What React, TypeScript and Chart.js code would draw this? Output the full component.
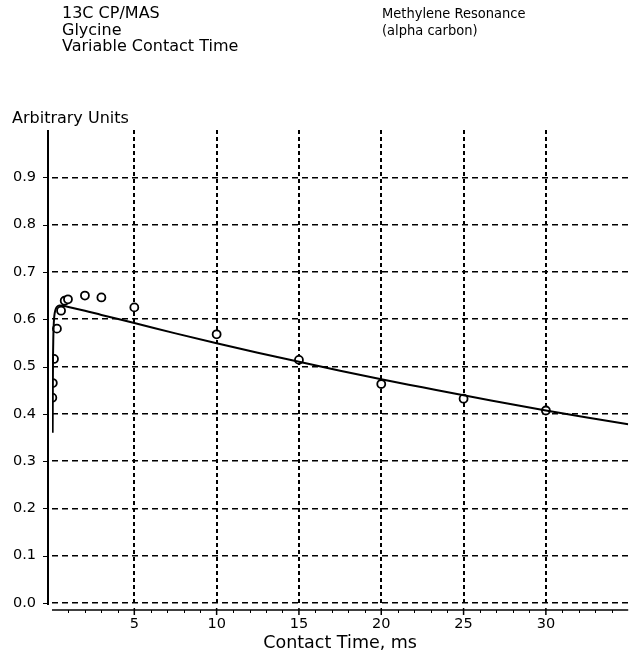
import React, { useEffect, useRef } from "react";
import { Chart, registerables } from "chart.js";

Chart.register(...registerables);

// Measured data points (contact time in ms, intensity in arbitrary units)
const pointTimes = [0.02, 0.05, 0.12, 0.3, 0.55, 0.77, 0.97, 2, 3, 5, 10, 15, 20, 25, 30];
const pointValues = [0.434, 0.465, 0.516, 0.58, 0.618, 0.639, 0.642, 0.65, 0.646, 0.625, 0.568, 0.514, 0.463, 0.432, 0.407];

// Fitted curve
const fitTimes = [0.04, 0.05, 0.06, 0.08, 0.1, 0.13, 0.17, 0.22, 0.3, 0.45, 0.7, 1, 2, 3, 5, 7.5, 10, 12.5, 15, 17.5, 20, 22.5, 25, 27.5, 30, 32.5, 35];
const fitValues = [0.36, 0.45, 0.51, 0.56, 0.585, 0.603, 0.614, 0.621, 0.626, 0.629, 0.628, 0.626, 0.618, 0.609, 0.592, 0.57, 0.549, 0.529, 0.51, 0.491, 0.473, 0.456, 0.439, 0.423, 0.407, 0.392, 0.378];

// Axis ticks
const xTickValues = [5, 10, 15, 20, 25, 30];
const xMinorTickValues = [1, 2, 3, 4, 6, 7, 8, 9, 11, 12, 13, 14, 16, 17, 18, 19, 21, 22, 23, 24, 26, 27, 28, 29, 31, 32, 33, 34];
const yTickValues = [0, 0.1, 0.2, 0.3, 0.4, 0.5, 0.6, 0.7, 0.8, 0.9];

const headerLeft = ["13C CP/MAS", "Glycine", "Variable Contact Time"];
const headerRight = ["Methylene Resonance", "(alpha carbon)"];
const yAxisTitle = "Arbitrary Units";
const xAxisTitle = "Contact Time, ms";

const FONT = "'DejaVu Sans', 'Open Sans', sans-serif";
const FONT_NARROW = "'Liberation Sans Narrow', 'DejaVu Sans Condensed', sans-serif";

const axesPlugin = {
  id: "customAxes",
  beforeDatasetsDraw(chart: any) {
    const { ctx, chartArea, scales } = chart;
    const xs = scales.x;
    const ys = scales.y;
    ctx.save();
    ctx.strokeStyle = "#000";
    ctx.setLineDash([]);
    // vertical axis line
    const ax = chartArea.left - 4;
    ctx.lineWidth = 2;
    ctx.beginPath();
    ctx.moveTo(ax, chartArea.top);
    ctx.lineTo(ax, chartArea.bottom + 2);
    ctx.stroke();
    // y tick marks
    ctx.lineWidth = 1;
    ctx.beginPath();
    yTickValues.forEach((v) => {
      const py = Math.round(ys.getPixelForValue(v)) + 0.5;
      ctx.moveTo(ax - 5, py);
      ctx.lineTo(ax, py);
    });
    ctx.stroke();
    // horizontal axis line
    const ay = chartArea.bottom + 7;
    ctx.lineWidth = 1.5;
    ctx.beginPath();
    ctx.moveTo(chartArea.left, ay);
    ctx.lineTo(chartArea.right, ay);
    ctx.stroke();
    ctx.lineWidth = 1.5;
    ctx.beginPath();
    xTickValues.forEach((v) => {
      const px = xs.getPixelForValue(v);
      ctx.moveTo(px, ay - 2);
      ctx.lineTo(px, ay + 5);
    });
    ctx.stroke();
    ctx.lineWidth = 1;
    ctx.beginPath();
    xMinorTickValues.forEach((v) => {
      const px = Math.round(xs.getPixelForValue(v)) + 0.5;
      ctx.moveTo(px, ay);
      ctx.lineTo(px, ay + 3);
    });
    ctx.stroke();
    ctx.restore();
  },
};

export default function App() {
  const canvasRef = useRef<HTMLCanvasElement | null>(null);

  useEffect(() => {
    const canvas = canvasRef.current;
    if (!canvas) return;
    const chart = new Chart(canvas, {
      type: "scatter",
      data: {
        datasets: [
          {
            label: "fit",
            data: fitTimes.map((t, i) => ({ x: t, y: fitValues[i] })),
            showLine: true,
            borderColor: "#000",
            borderWidth: 2,
            pointRadius: 0,
            fill: false,
            cubicInterpolationMode: "monotone",
            order: 0,
          },
          {
            label: "data",
            data: pointTimes.map((t, i) => ({ x: t, y: pointValues[i] })),
            showLine: false,
            pointStyle: "circle",
            pointRadius: 4,
            pointBorderWidth: 1.8,
            borderColor: "#000",
            backgroundColor: "#fff",
            order: 1,
          },
        ],
      },
      options: {
        animation: false,
        responsive: false,
        maintainAspectRatio: false,
        layout: { padding: { top: 130, left: 0, right: 0, bottom: 0 } },
        plugins: {
          legend: { display: false },
          tooltip: { enabled: false },
          title: { display: false },
        },
        scales: {
          x: {
            type: "linear",
            min: 0,
            max: 35,
            afterBuildTicks: (axis: any) => {
              axis.ticks = xTickValues.map((v) => ({ value: v }));
            },
            afterFit: (axis: any) => {
              axis.height = 51;
            },
            grid: {
              color: "#000",
              lineWidth: 2,
              drawTicks: false,
            },
            border: { display: false, dash: [4, 3] },
            ticks: {
              color: "#000",
              font: { family: FONT, size: 14.5 },
              padding: 13,
              maxRotation: 0,
              autoSkip: false,
              callback: (v: any) => String(v),
            },
            title: {
              display: true,
              text: xAxisTitle,
              color: "#000",
              font: { family: FONT, size: 17.5 },
              padding: { top: 0, bottom: 0 },
            },
          },
          y: {
            type: "linear",
            min: 0,
            max: 1.0,
            afterBuildTicks: (axis: any) => {
              axis.ticks = yTickValues.map((v) => ({ value: v }));
            },
            afterFit: (axis: any) => {
              axis.width = 52;
            },
            grid: {
              color: "#000",
              lineWidth: 1.5,
              drawTicks: false,
            },
            border: { display: false, dash: [6, 4] },
            ticks: {
              color: "#000",
              font: { family: FONT, size: 14.5 },
              padding: 16,
              callback: (v: any) => Number(v).toFixed(1),
            },
          },
        },
      },
      plugins: [axesPlugin],
    });
    return () => chart.destroy();
  }, []);

  const textStyle: React.CSSProperties = {
    position: "absolute",
    fontFamily: FONT,
    fontSize: 16,
    lineHeight: "16.5px",
    color: "#000",
    whiteSpace: "nowrap",
  };

  return (
    <div style={{ position: "absolute", left: 0, top: 0, width: 634, height: 654, background: "#fff" }}>
      <canvas ref={canvasRef} width={634} height={654} style={{ position: "absolute", left: 0, top: 0, width: 634, height: 654 }} />
      <div style={{ ...textStyle, left: 62, top: 5 }}>
        {headerLeft.map((s) => (
          <div key={s}>{s}</div>
        ))}
      </div>
      <div style={{ ...textStyle, fontFamily: FONT_NARROW, fontSize: 14.5, left: 382, top: 5 }}>
        {headerRight.map((s) => (
          <div key={s}>{s}</div>
        ))}
      </div>
      <div style={{ ...textStyle, left: 12, top: 110 }}>{yAxisTitle}</div>
    </div>
  );
}
